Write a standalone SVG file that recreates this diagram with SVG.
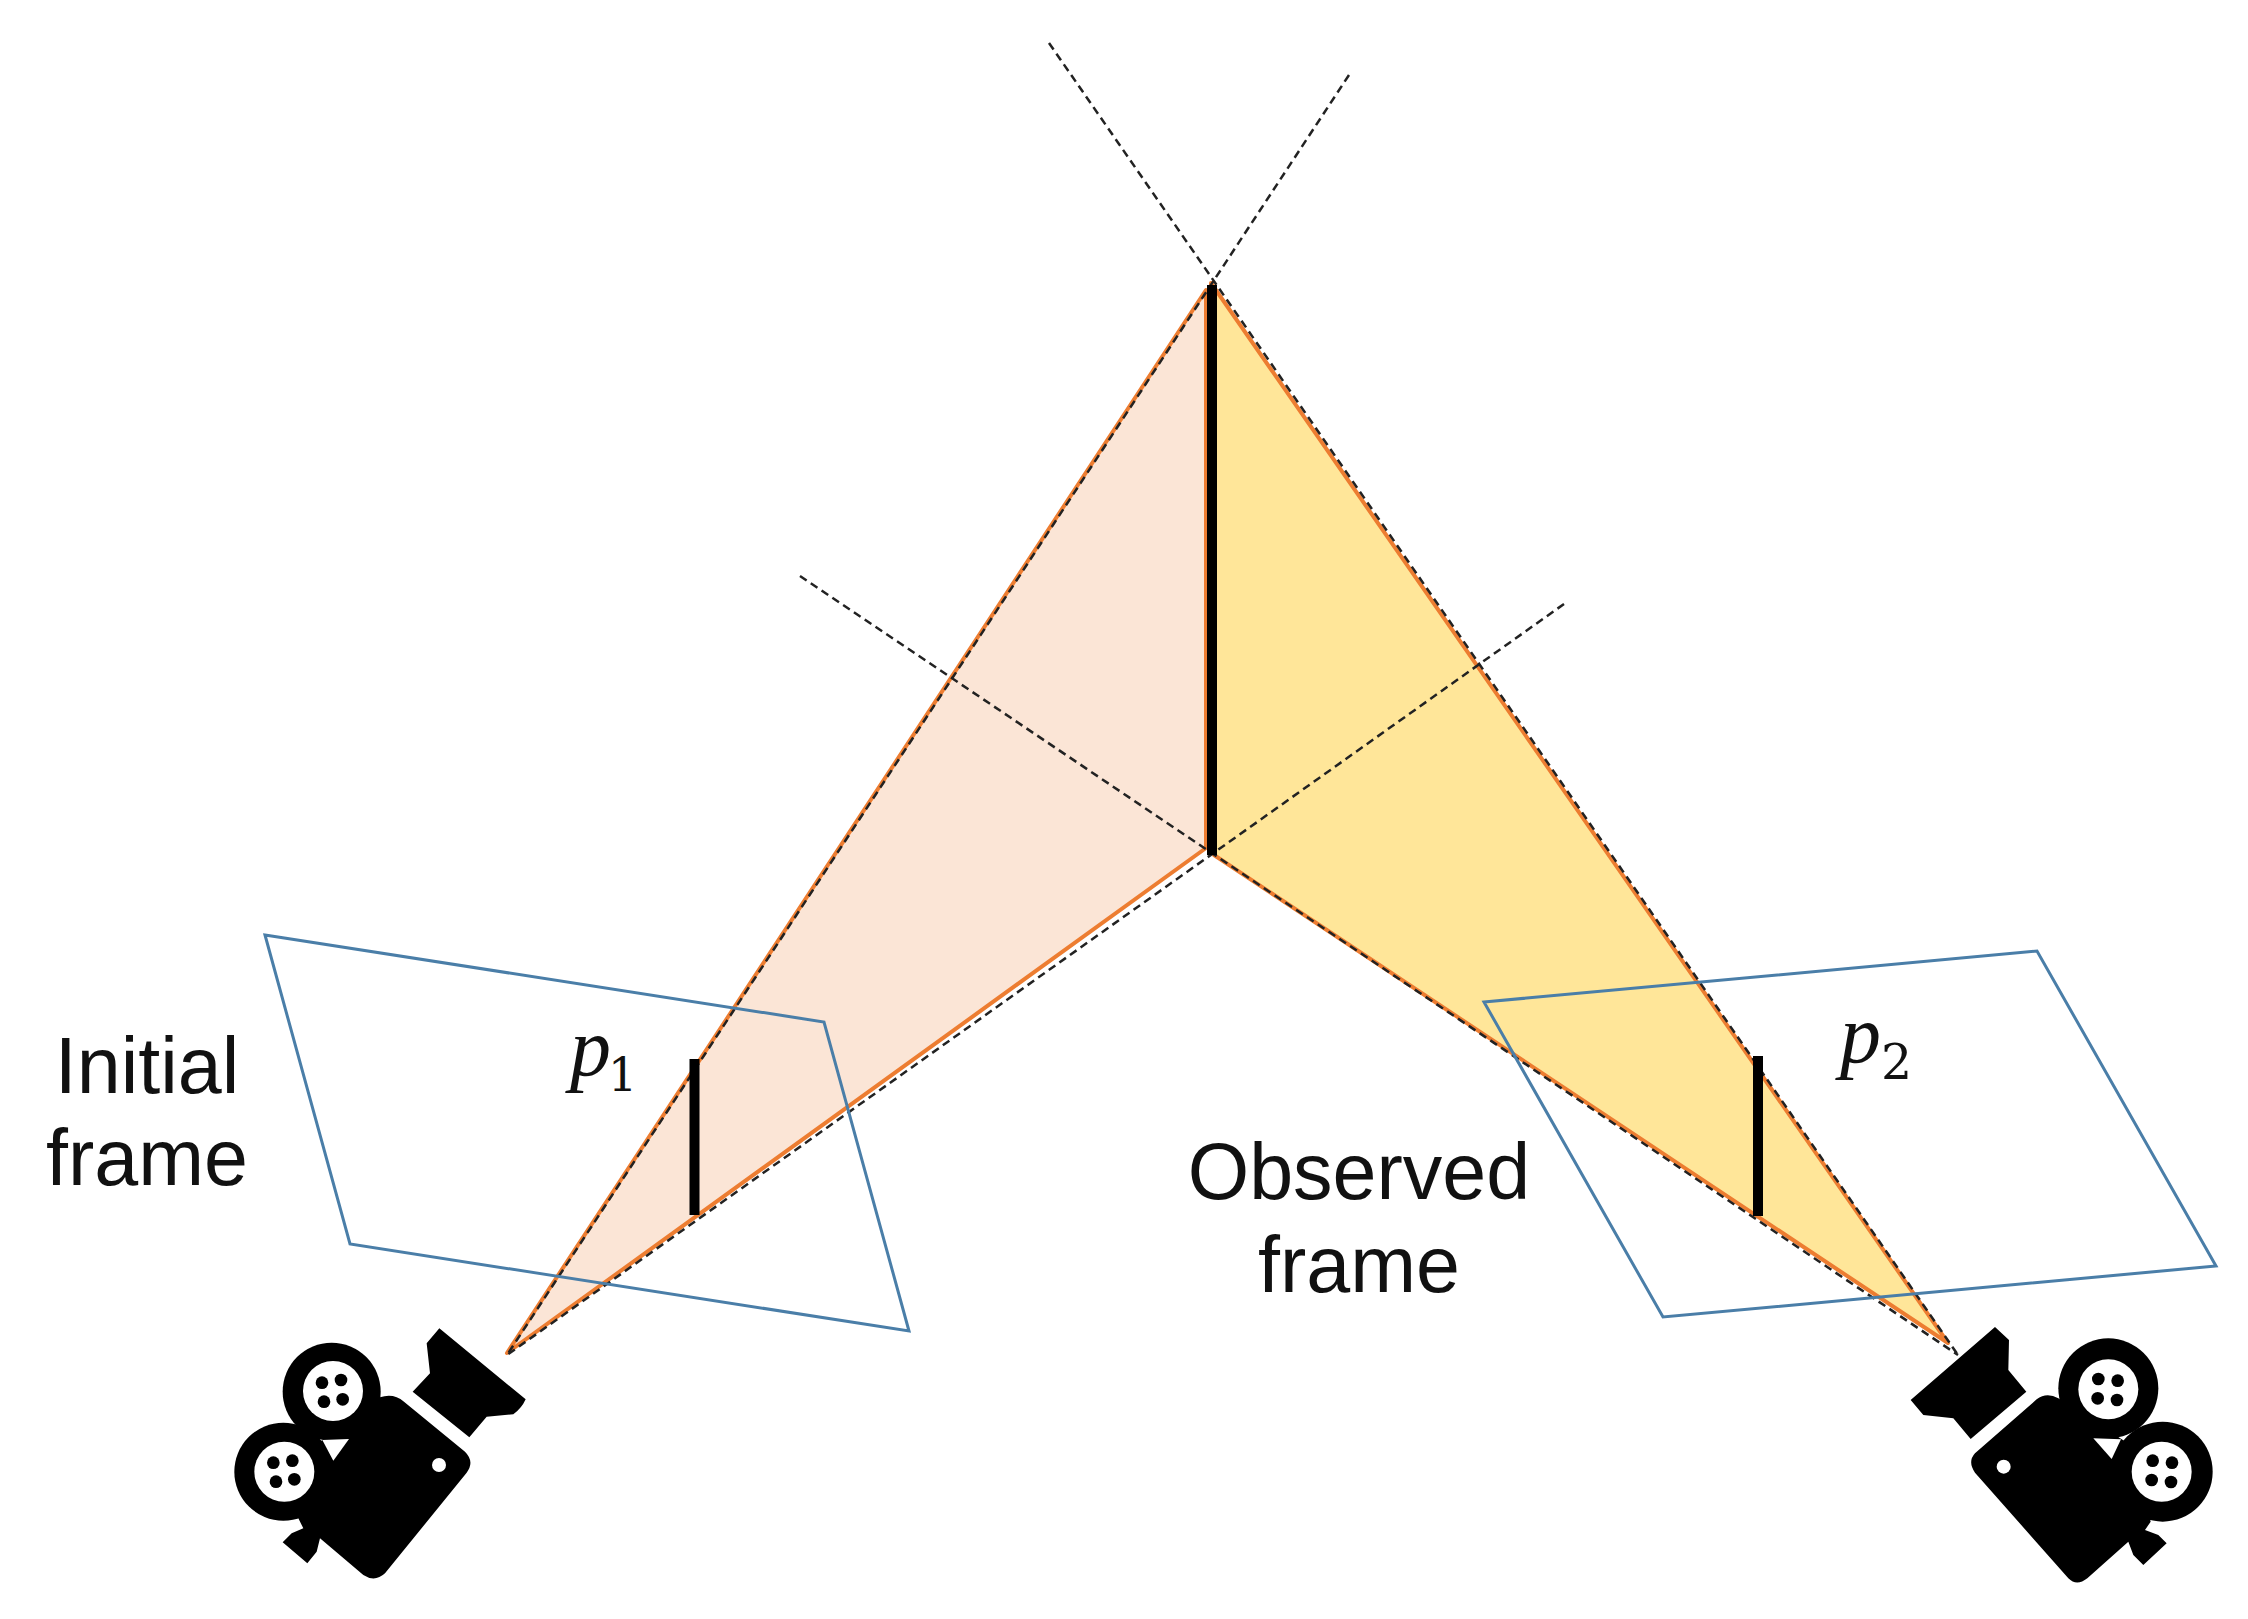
<svg xmlns="http://www.w3.org/2000/svg" width="2248" height="1619" viewBox="0 0 2248 1619">
<style>
.tri{stroke:#ED7D31;stroke-width:4;stroke-linejoin:round}
.ray{stroke:#222;stroke-width:2.500;stroke-dasharray:8 5;fill:none}
.bar{stroke:#000;stroke-width:10;fill:none}
.plane{stroke:#4A7EA8;stroke-width:3;fill:none}
.lbl{font-family:"Liberation Sans",Arial,sans-serif;font-size:79px;fill:#111;text-anchor:middle}
.math{font-family:"Liberation Serif","Times New Roman",serif;fill:#111}
.sub{font-family:"DejaVu Serif",serif;fill:#111}
.k{fill:#000}.w{fill:#fff}
</style>
<rect width="2248" height="1619" fill="#fff"/>
<g id="triangle-initial"><path class="tri" fill="#FBE5D6" d="M1206,290L507,1353L1206,848Z"/></g>
<g id="triangle-observed"><path class="tri" fill="#FFE699" d="M1211,283L1948,1343L1214,855Z"/></g>
<g id="connectors">
<path class="ray" d="M1349,75L507,1355"/>
<path class="ray" d="M1049,43L1958,1355"/>
<path class="ray" d="M800,576L1958,1355"/>
<path class="ray" d="M1564,604L507,1355"/>
</g>
<g id="bars">
<path class="bar" d="M1212,285V855"/>
<path class="bar" d="M694.500,1059V1215"/>
<path class="bar" d="M1758,1056V1216"/>
</g>
<g id="frame-initial"><path class="plane" d="M265,935L824,1022L909,1331L350,1244Z"/></g>
<g id="frame-observed"><path class="plane" d="M1484,1002L2037,951L2216,1266L1663,1317Z"/></g>
<g id="label-initial"><text class="lbl" x="147" y="1093">Initial</text><text class="lbl" x="147" y="1185">frame</text></g>
<g id="label-observed"><text class="lbl" x="1359" y="1199">Observed</text><text class="lbl" x="1359" y="1292">frame</text></g>
<g id="label-p1"><text class="math" x="570" y="1075" font-size="82" font-style="italic">p</text><text class="sub" x="608" y="1091" font-size="46">1</text></g>
<g id="label-p2"><text class="math" x="1840" y="1062" font-size="82" font-style="italic">p</text><text class="sub" x="1881" y="1079" font-size="49">2</text></g>
<g id="camera-left" transform="translate(200,1280) scale(0.33333)">
<circle class="k" cx="395" cy="335" r="147"/><circle class="k" cx="250" cy="575" r="147"/>
<path class="k" d="M540,352Q580,338 612,365L795,515Q825,545 800,578L555,880Q525,908 490,885L360,775L350,815L322,850L248,787L275,760L310,745L295,715L340,500Z"/>
<path class="k" d="M718,145L977,358Q965,385 940,403L860,410L808,472L638,335L690,280L680,190Z"/>
<circle class="w" cx="399" cy="333" r="90"/><circle class="w" cx="253" cy="575" r="90"/>
<path class="w" d="M367,480L447,477L400,542Z"/><circle class="w" cx="717" cy="555" r="21"/>
<g class="k"><circle cx="366" cy="308" r="19"/><circle cx="423" cy="300" r="19"/><circle cx="372" cy="365" r="19"/><circle cx="428" cy="358" r="19"/>
<circle cx="220" cy="548" r="19"/><circle cx="277" cy="542" r="19"/><circle cx="228" cy="605" r="19"/><circle cx="283" cy="598" r="19"/></g>
</g>
<g id="camera-right" transform="translate(1880,1280) scale(0.33333)">
<circle class="k" cx="685" cy="325" r="150"/><circle class="k" cx="848" cy="575" r="150"/>
<path class="k" d="M535,355Q500,335 470,358L285,520Q262,545 285,578L565,895Q590,920 622,895L745,785L760,825L790,855L860,790L835,765L795,750L812,725L760,500Z"/>
<path class="k" d="M345,141L92,360L130,405L220,415L272,477L439,335L385,270L387,180Z"/>
<circle class="w" cx="685" cy="328" r="90"/><circle class="w" cx="845" cy="575" r="90"/>
<path class="w" d="M640,475L723,478L695,537Z"/><circle class="w" cx="371" cy="560" r="21"/>
<g class="k"><circle cx="655" cy="297" r="19"/><circle cx="713" cy="302" r="19"/><circle cx="653" cy="355" r="19"/><circle cx="711" cy="360" r="19"/>
<circle cx="818" cy="542" r="19"/><circle cx="876" cy="548" r="19"/><circle cx="815" cy="600" r="19"/><circle cx="873" cy="606" r="19"/></g>
</g>
</svg>
